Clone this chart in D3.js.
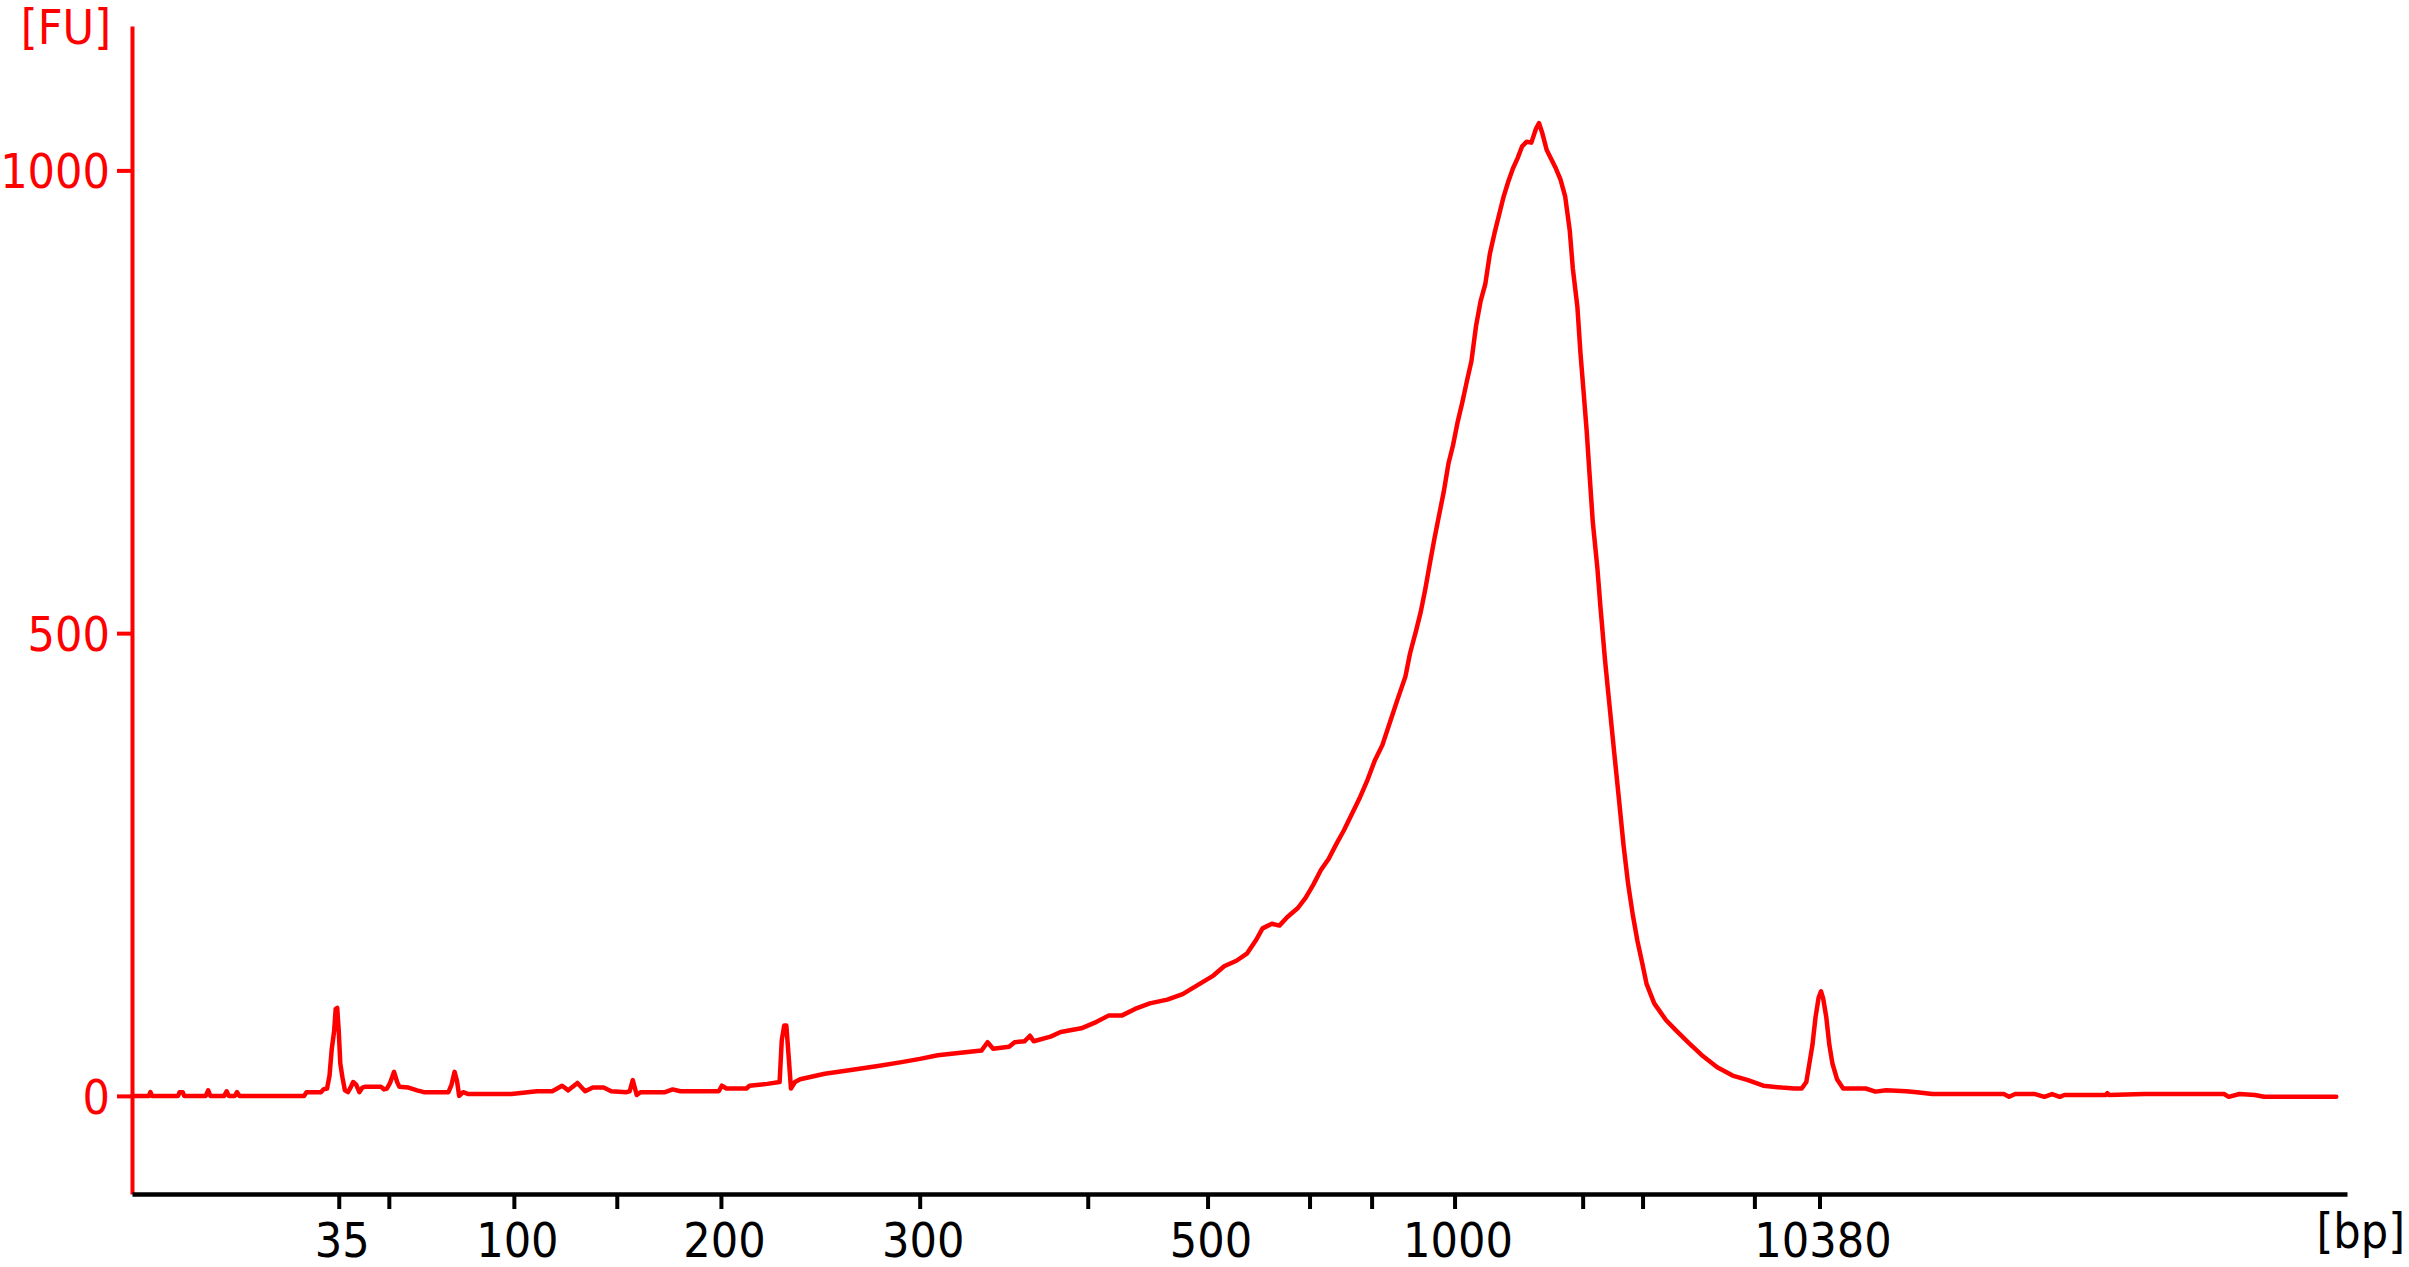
<!DOCTYPE html>
<html>
<head>
<meta charset="utf-8">
<script src="https://cdn.jsdelivr.net/npm/d3@7/dist/d3.min.js"></script>
<style>
  html, body { margin: 0; padding: 0; background: #ffffff; }
  svg { display: block; }
  text { font-family: "DejaVu Sans Condensed", "DejaVu Sans", sans-serif; font-stretch: condensed; }
</style>
</head>
<body>
<svg id="chart" width="2409" height="1267"></svg>
<script>
// ---- Data ----
// Ladder fragment sizes (bp) and their migration times (s)
const ladderSizes = [35, 50, 100, 150, 200, 300, 400, 500, 600, 700, 1000, 2000, 3000, 7000, 10380];
const ladderTimes = [47.03, 48.66, 52.73, 56.08, 59.47, 65.94, 71.41, 75.31, 78.63, 80.65, 83.35, 87.52, 89.47, 93.11, 95.23];
const labeledSizes = [35, 100, 200, 300, 500, 1000, 10380];
const yTickValues = [0, 500, 1000];

// Electropherogram trace: migration time (s), fluorescence (FU)
const traceTime = [
  40.30, 40.85, 40.90, 40.95, 41.80, 41.85, 41.95, 42.00, 42.70, 42.78, 42.85, 43.30, 43.38, 43.45, 43.65, 43.72, 43.80,
  45.90, 45.98, 46.45, 46.53, 46.65, 46.73, 46.80, 46.88, 46.93, 46.98, 47.03, 47.08, 47.15, 47.23, 47.33, 47.40, 47.50,
  47.60, 47.70, 47.80, 47.90, 48.40, 48.50, 48.60, 48.70, 48.83, 48.93, 49.00, 49.30, 49.58, 49.80, 50.60, 50.70, 50.80,
  50.88, 50.95, 51.08, 51.25, 51.55, 52.65, 53.48, 53.98, 54.30, 54.50, 54.80, 55.05, 55.30, 55.65, 55.90, 56.40, 56.50,
  56.60, 56.73, 56.85, 57.65, 57.90, 58.15, 59.40, 59.50, 59.65, 60.30, 60.40, 60.98, 61.38, 61.45, 61.53, 61.60, 61.68,
  61.75, 61.88, 62.05, 62.85, 63.70, 64.53, 65.35, 65.95, 66.53, 67.35, 67.95, 68.15, 68.33, 68.85, 69.03, 69.35, 69.53,
  69.65, 70.20, 70.53, 71.20, 71.70, 72.10, 72.53, 72.95, 73.43, 74.00, 74.50, 75.00, 75.50, 75.85, 76.25, 76.60, 76.90,
  77.10, 77.40, 77.65, 77.90, 78.25, 78.50, 78.75, 79.00, 79.25, 79.50, 79.75, 80.00, 80.25, 80.50, 80.75, 81.00, 81.25,
  81.50, 81.75, 81.90, 82.10, 82.25, 82.40, 82.55, 82.70, 82.85, 83.00, 83.15, 83.30, 83.45, 83.60, 83.75, 83.90, 84.05,
  84.20, 84.35, 84.50, 84.65, 84.80, 84.95, 85.10, 85.25, 85.40, 85.55, 85.70, 85.85, 86.00, 86.10, 86.20, 86.35, 86.50,
  86.65, 86.80, 86.95, 87.10, 87.20, 87.35, 87.45, 87.55, 87.65, 87.75, 87.85, 88.00, 88.10, 88.25, 88.40, 88.55, 88.70,
  88.85, 89.00, 89.15, 89.30, 89.45, 89.60, 89.85, 90.23, 90.55, 90.98, 91.40, 91.90, 92.40, 92.90, 93.40, 94.00, 94.40,
  94.65, 94.80, 94.90, 95.00, 95.10, 95.20, 95.28, 95.35, 95.45, 95.55, 95.65, 95.80, 96.00, 96.73, 97.05, 97.40, 98.05,
  98.40, 98.90, 101.23, 101.40, 101.60, 102.25, 102.55, 102.80, 103.05, 103.20, 104.55, 104.60, 104.65, 105.80, 108.40,
  108.55, 108.90, 109.40, 109.70, 112.05
];
const traceFU = [
  0, 0, 4, 0, 0, 4, 4, 0, 0, 6, 0, 0, 5, 0, 0, 4, 0,
  0, 4, 4, 7, 8, 22, 50, 70, 94, 95, 70, 35, 20, 6, 4, 8, 15,
  12, 4, 9, 10, 10, 7, 8, 14, 26, 15, 10, 9, 6, 4, 4, 12, 26,
  16, 0, 4, 2, 2, 2, 5, 5, 11, 6, 14, 5, 9, 9, 5, 4, 5,
  17, 1, 4, 4, 7, 5, 5, 11, 8, 8, 11, 13, 15, 60, 76, 76, 40,
  8, 15, 18, 24, 28, 32, 36.5, 40, 44, 47, 49, 58, 51, 53, 58, 59, 65,
  59, 64, 69, 73, 80, 87, 87, 94, 100, 104, 110, 120, 130, 140, 146, 154, 169,
  181, 186, 184, 193, 203, 214, 228, 244, 256, 272, 287, 304, 321, 340, 362, 379, 404,
  429, 453, 478, 503, 523, 548, 576, 603, 628, 653, 683, 703, 728, 749, 772, 794, 832,
  859, 877, 910, 932, 952, 972, 988, 1002, 1013, 1026, 1031, 1030, 1045, 1051, 1041, 1022, 1012,
  1002, 990, 972, 935, 894, 852, 802, 761, 719, 669, 620, 570, 528, 470, 420, 370, 321,
  271, 229, 196, 168, 145, 121, 100, 82, 71, 57, 44, 31, 22, 17, 11, 9, 8,
  8, 15, 35, 55, 85, 106, 113, 105, 85, 55, 35, 18, 8, 8, 4.6, 6, 5,
  4, 2, 2, -1, 2, 2, -1, 2, -1, 1, 1, 3, 1, 2, 2,
  -1, 2, 1, -1, -1
];
const timeDomain = [40.3, 112.4];
const fuDomain = [-106, 1156];

// ---- Layout ----
const plotLeft = 132, plotRight = 2347, plotTop = 26, plotBottom = 1194;
const RED = "#ff0000";
const FONT = '"DejaVu Sans Condensed", "DejaVu Sans", sans-serif';

const svg = d3.select("#chart");

const x = d3.scaleLinear().domain(timeDomain).range([plotLeft, plotRight]);
const y = d3.scaleLinear().domain(fuDomain).range([plotBottom, plotTop]);

const trace = traceTime.map((t, i) => [t, traceFU[i]]);

// Trace
svg.append("path")
  .datum(trace)
  .attr("fill", "none")
  .attr("stroke", RED)
  .attr("stroke-width", 4.5)
  .attr("stroke-linejoin", "round")
  .attr("stroke-linecap", "round")
  .attr("d", d3.line().x(d => x(d[0])).y(d => y(d[1])));

// Y axis
const yAxis = svg.append("g")
  .attr("transform", `translate(${plotLeft},0)`)
  .call(d3.axisLeft(y).tickValues(yTickValues).tickSize(15).tickSizeOuter(0).tickPadding(7).tickFormat(d3.format("d")));
yAxis.select(".domain").attr("stroke", RED).attr("stroke-width", 4);
yAxis.selectAll(".tick line").attr("stroke", RED).attr("stroke-width", 4);
yAxis.selectAll(".tick text")
  .attr("fill", RED)
  .attr("dy", "0.36em")
  .style("font-size", "48px")
  .style("font-family", FONT);

// X axis
const xAxis = svg.append("g")
  .attr("transform", `translate(0,${plotBottom})`)
  .call(d3.axisBottom(x)
    .tickValues(ladderTimes)
    .tickSize(15)
    .tickSizeOuter(0)
    .tickPadding(14)
    .tickFormat((t, i) => labeledSizes.includes(ladderSizes[i]) ? String(ladderSizes[i]) : ""));
xAxis.select(".domain").attr("stroke", "#000").attr("stroke-width", 4.5);
xAxis.selectAll(".tick line").attr("stroke", "#000").attr("stroke-width", 4);
xAxis.selectAll(".tick text")
  .attr("fill", "#000")
  .attr("dx", 3)
  .style("font-size", "48px")
  .style("font-family", FONT);

// Unit labels
svg.append("text")
  .attr("x", 111).attr("y", 44)
  .attr("text-anchor", "end")
  .attr("fill", RED)
  .style("font-size", "48px")
  .text("[FU]");

svg.append("text")
  .attr("x", 2405).attr("y", 1248)
  .attr("text-anchor", "end")
  .attr("fill", "#000")
  .style("font-size", "48px")
  .text("[bp]");
</script>
</body>
</html>
